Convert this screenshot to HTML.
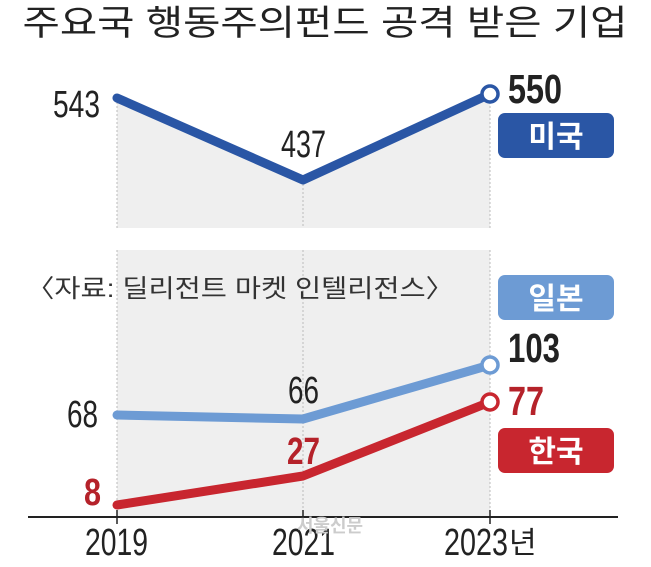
<!DOCTYPE html>
<html><head><meta charset="utf-8"><style>
body{margin:0;background:#fff;width:651px;height:562px;overflow:hidden}
text{font-family:"Liberation Sans","Noto Sans CJK KR",sans-serif}
</style></head><body>
<svg width="651" height="562" viewBox="0 0 651 562">
<text x="325" y="35" text-anchor="middle" font-size="35" fill="#222" textLength="605" lengthAdjust="spacingAndGlyphs">주요국 행동주의펀드 공격 받은 기업</text>
<rect x="117" y="250" width="373" height="267" fill="#efefef"/>
<polygon points="117,98 303,180 490,94 490,228 117,228" fill="#efefef"/>
<g stroke="#bbb" stroke-dasharray="2,2" stroke-width="1">
<line x1="117" y1="98" x2="117" y2="228"/><line x1="303" y1="180" x2="303" y2="228"/><line x1="490" y1="94" x2="490" y2="228"/>
<line x1="117" y1="250" x2="117" y2="517"/><line x1="303" y1="250" x2="303" y2="517"/><line x1="490" y1="250" x2="490" y2="517"/>
</g>
<text x="26" y="297" font-size="25" fill="#333" textLength="428" lengthAdjust="spacingAndGlyphs">〈자료: 딜리전트 마켓 인텔리전스〉</text>
<line x1="28" y1="517" x2="618" y2="517" stroke="#222" stroke-width="2"/>
<g stroke="#222" stroke-width="1.5"><line x1="117" y1="510" x2="117" y2="524"/><line x1="303" y1="510" x2="303" y2="524"/><line x1="490" y1="510" x2="490" y2="524"/></g>
<g fill="none" stroke-linejoin="round" stroke-linecap="round" stroke-width="9">
<polyline points="117,98 303,180 490,94" stroke="#2a56a5"/>
<polyline points="117,415 303,419 490,365" stroke="#6d9bd4"/>
<polyline points="117,505 303,476 490,402" stroke="#c8262f"/>
</g>
<circle cx="490" cy="94" r="8" fill="#fff" stroke="#2a56a5" stroke-width="3.5"/>
<circle cx="490" cy="365" r="8" fill="#fff" stroke="#6d9bd4" stroke-width="3.5"/>
<circle cx="490" cy="402" r="8" fill="#fff" stroke="#c8262f" stroke-width="3.5"/>
<g font-size="38" fill="#222" lengthAdjust="spacingAndGlyphs">
<text x="53" y="117" textLength="47" lengthAdjust="spacingAndGlyphs">543</text>
<text x="281" y="157" textLength="45" lengthAdjust="spacingAndGlyphs">437</text>
<text x="67" y="427" textLength="31" lengthAdjust="spacingAndGlyphs">68</text>
<text x="288" y="403" textLength="31" lengthAdjust="spacingAndGlyphs">66</text>
<text x="85" y="555" textLength="63" lengthAdjust="spacingAndGlyphs">2019</text>
<text x="272" y="555" textLength="63" lengthAdjust="spacingAndGlyphs">2021</text>
<text x="444" y="555" textLength="64" lengthAdjust="spacingAndGlyphs">2023</text>
<text x="508" y="103" font-weight="bold" font-size="41" textLength="54" lengthAdjust="spacingAndGlyphs">550</text>
<text x="508" y="362" font-weight="bold" font-size="41" textLength="52" lengthAdjust="spacingAndGlyphs">103</text>
</g>
<text x="509" y="553" font-size="30" fill="#222">년</text>
<g font-weight="bold" fill="#b5222a" font-size="38">
<text x="84" y="505" textLength="17" lengthAdjust="spacingAndGlyphs">8</text>
<text x="287" y="464" textLength="33" lengthAdjust="spacingAndGlyphs">27</text>
<text x="508" y="415" font-size="41" textLength="36" lengthAdjust="spacingAndGlyphs">77</text>
</g>
<rect x="498" y="113" width="116" height="45" rx="7" fill="#2a56a5"/>
<rect x="498" y="275" width="116" height="45" rx="7" fill="#6d9bd4"/>
<rect x="498" y="428" width="116" height="45" rx="7" fill="#c8262f"/>
<g font-size="30" font-weight="bold" fill="#fff" text-anchor="middle">
<text x="556" y="147">미국</text>
<text x="556" y="309">일본</text>
<text x="556" y="462">한국</text>
</g>
<text x="330" y="532" text-anchor="middle" font-size="18" fill="#ccc" font-weight="bold">서울신문</text>
</svg>
</body></html>
